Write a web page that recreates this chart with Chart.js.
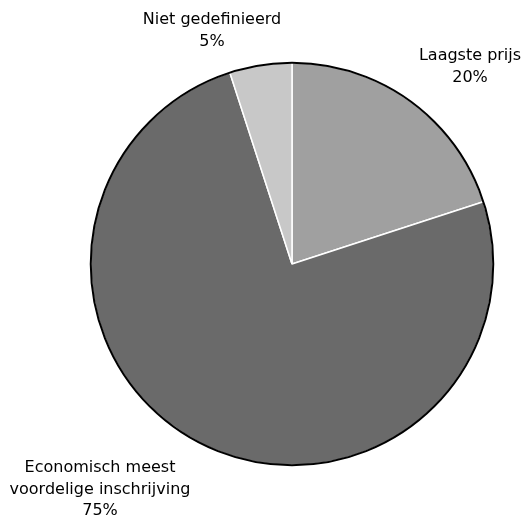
<!DOCTYPE html>
<html>
<head>
<meta charset="utf-8">
<script src="https://cdn.jsdelivr.net/npm/chart.js@4.4.0/dist/chart.umd.min.js"></script>
<style>
html,body{margin:0;padding:0;background:#fff;}
#wrap{width:526px;height:516px;position:relative;}
</style>
</head>
<body>
<div id="wrap"><canvas id="c" width="526" height="516"></canvas></div>
<script>
const categories = ["Laagste prijs", "Economisch meest voordelige inschrijving", "Niet gedefinieerd"];
const values = [20, 75, 5];
const labelLines = [["Laagste prijs", "20%"], ["Economisch meest", "voordelige inschrijving", "75%"], ["Niet gedefinieerd", "5%"]];
const colors = ["#a0a0a0", "#6a6a6a", "#c8c8c8"];
const labelPos = [[470, 56], [100, 468], [212, 20]];

const labelPlugin = {
  id: 'labels',
  afterDraw(chart) {
    const ctx = chart.ctx;
    const meta = chart.getDatasetMeta(0);
    const a = meta.data[0];
    ctx.save();
    ctx.beginPath();
    ctx.arc(a.x, a.y, a.outerRadius, 0, Math.PI * 2);
    ctx.strokeStyle = '#000';
    ctx.lineWidth = 2;
    ctx.stroke();
    ctx.fillStyle = '#000';
    ctx.font = '16px "DejaVu Sans", Verdana, sans-serif';
    ctx.textAlign = 'center';
    ctx.textBaseline = 'middle';
    labelLines.forEach((lines, i) => {
      lines.forEach((t, j) => {
        ctx.fillText(t, labelPos[i][0], labelPos[i][1] + j * 21.5);
      });
    });
    ctx.restore();
  }
};

new Chart(document.getElementById('c'), {
  type: 'pie',
  data: {
    labels: categories,
    datasets: [{
      data: values,
      backgroundColor: colors,
      borderColor: '#ffffff',
      borderWidth: 1.5
    }]
  },
  options: {
    responsive: false,
    animation: false,
    layout: { padding: { left: 90, right: 32, top: 62, bottom: 50 } },
    plugins: { legend: { display: false }, tooltip: { enabled: false } }
  },
  plugins: [labelPlugin]
});
</script>
</body>
</html>
